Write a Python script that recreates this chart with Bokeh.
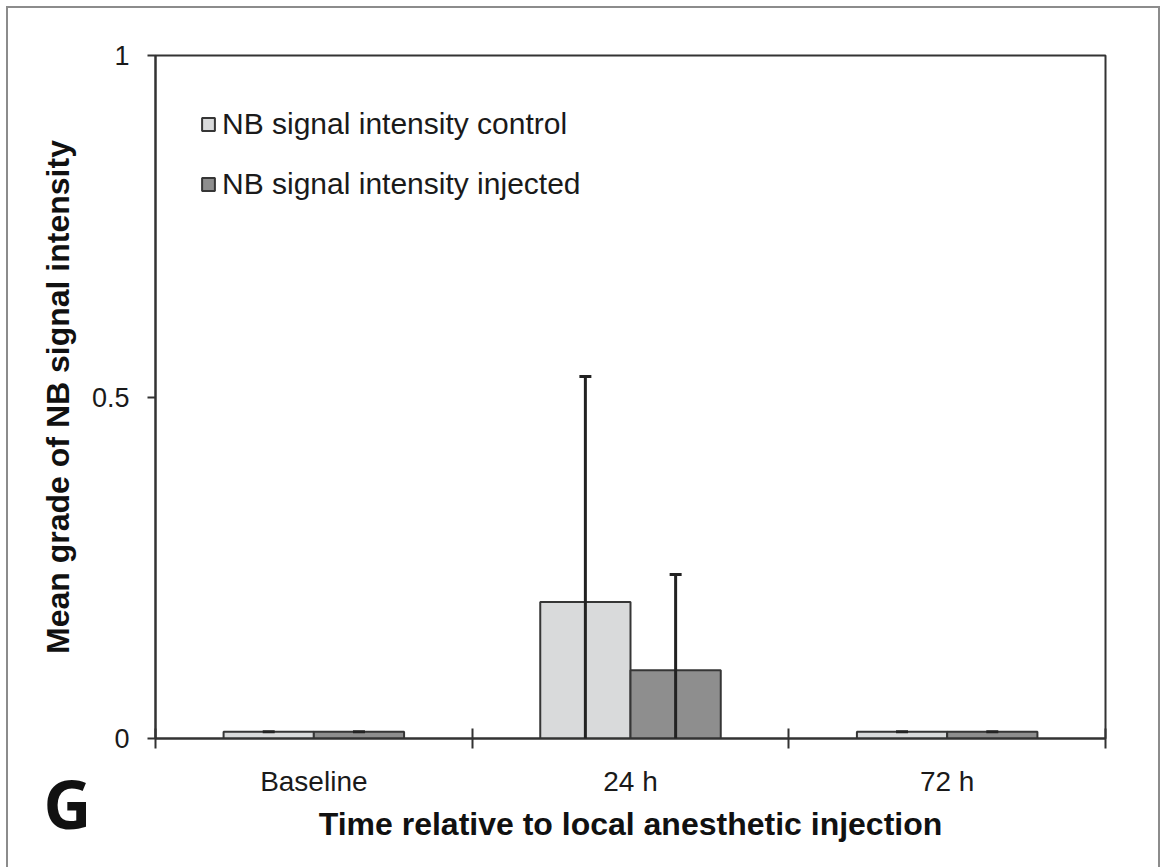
from bokeh.plotting import figure
from bokeh.models import (Range1d, FixedTicker, ColumnDataSource, Whisker, TeeHead,
                          Legend, LegendItem, Label)
from bokeh.embed import file_html
from bokeh.resources import INLINE

categories = ["Baseline", "24 h", "72 h"]
control = [0.01, 0.20, 0.01]
injected = [0.01, 0.10, 0.01]
control_err = [0.0, 0.33, 0.0]
injected_err = [0.0, 0.14, 0.0]
y_ticks = [0, 0.5, 1]
y_tick_labels = ["0", "0.5", "1"]

idx = list(range(len(categories)))
bar_w = 0.285
off = bar_w / 2
xc = [i + 0.5 - off for i in idx]
xi = [i + 0.5 + off for i in idx]

src_c = ColumnDataSource(dict(x=xc, top=control,
                              lower=[max(0, v - e) for v, e in zip(control, control_err)],
                              upper=[v + e for v, e in zip(control, control_err)]))
src_i = ColumnDataSource(dict(x=xi, top=injected,
                              lower=[max(0, v - e) for v, e in zip(injected, injected_err)],
                              upper=[v + e for v, e in zip(injected, injected_err)]))

p = figure(frame_width=950, frame_height=683,
           x_range=Range1d(0, len(categories)), y_range=Range1d(0, 1),
           output_backend="svg", toolbar_location=None,
           min_border_left=147, min_border_right=53, min_border_top=47, min_border_bottom=129)
p.styles = {"margin-left": "6px", "margin-top": "6px",
            "border-left": "2px solid #8c8c8c", "border-top": "2px solid #8c8c8c",
            "border-right": "2px solid #8c8c8c"}
p.grid.visible = False
p.outline_line_color = "#333333"
p.outline_line_width = 2
p.background_fill_color = "white"
p.border_fill_color = "white"

edge = "#363636"
rc = p.vbar(x="x", top="top", width=bar_w, source=src_c, fill_color="#d9dadb",
            line_color=edge, line_width=2)
ri = p.vbar(x="x", top="top", width=bar_w, source=src_i, fill_color="#8e8e8e",
            line_color=edge, line_width=2)

for src in (src_c, src_i):
    w = Whisker(base="x", lower="lower", upper="upper", source=src,
                line_color="#222222", line_width=3, level="annotation",
                upper_head=TeeHead(size=12, line_width=3, line_color="#222222"),
                lower_head=None)
    p.add_layout(w)

# y axis
ya = p.yaxis[0]
ya.ticker = FixedTicker(ticks=y_ticks)
ya.major_label_overrides = {t: s for t, s in zip(y_ticks, y_tick_labels)}
ya.minor_tick_line_color = None
ya.major_tick_in = 0
ya.major_tick_out = 8
ya.major_tick_line_width = 2
ya.major_tick_line_color = "#333333"
ya.axis_line_width = 2
ya.axis_line_color = "#333333"
ya.major_label_text_font = "Liberation Sans"
ya.major_label_text_font_size = "27px"
ya.major_label_text_color = "#1a1a1a"
ya.major_label_standoff = 18
ya.axis_label = "Mean grade of NB signal intensity"
ya.axis_label_text_font = "Liberation Sans"
ya.axis_label_text_font_style = "bold"
ya.axis_label_text_font_size = "32px"
ya.axis_label_text_color = "#111111"
ya.axis_label_standoff = 13

# x axis
xa = p.xaxis[0]
centers = [i + 0.5 for i in idx]
xa.ticker = FixedTicker(ticks=centers, minor_ticks=list(range(len(categories) + 1)))
xa.major_label_overrides = {c: s for c, s in zip(centers, categories)}
xa.major_tick_line_color = None
xa.major_tick_in = 0
xa.major_tick_out = 0
xa.minor_tick_in = 10
xa.minor_tick_out = 10
xa.minor_tick_line_width = 2
xa.minor_tick_line_color = "#333333"
xa.axis_line_width = 2
xa.axis_line_color = "#333333"
xa.major_label_text_font = "Liberation Sans"
xa.major_label_text_font_size = "28px"
xa.major_label_text_color = "#1a1a1a"
xa.major_label_standoff = 17
xa.axis_label = "Time relative to local anesthetic injection"
xa.axis_label_text_font = "Liberation Sans"
xa.axis_label_text_font_style = "bold"
xa.axis_label_text_font_size = "32px"
xa.axis_label_text_color = "#111111"
xa.axis_label_standoff = 6

legend = Legend(items=[LegendItem(label="NB signal intensity control", renderers=[rc]),
                       LegendItem(label="NB signal intensity injected", renderers=[ri])],
                location=(45, 537), orientation="vertical",
                glyph_width=16, glyph_height=16, label_standoff=6,
                label_height=34, spacing=26, padding=0, margin=0,
                label_text_font="Liberation Sans", label_text_font_size="30px",
                label_text_color="#1a1a1a",
                border_line_color=None, background_fill_alpha=0)
p.add_layout(legend)

# panel letter, placed in a side panel so that it is not clipped to the frame
p.add_layout(Label(x=57, y=792, x_units="canvas", y_units="canvas", text="G",
                   text_font="Open Sans", text_font_style="bold", text_font_size="66px",
                   text_align="center", text_baseline="alphabetic", text_color="#111111"),
             "below")

open("out.html", "w").write(file_html(p, INLINE))
